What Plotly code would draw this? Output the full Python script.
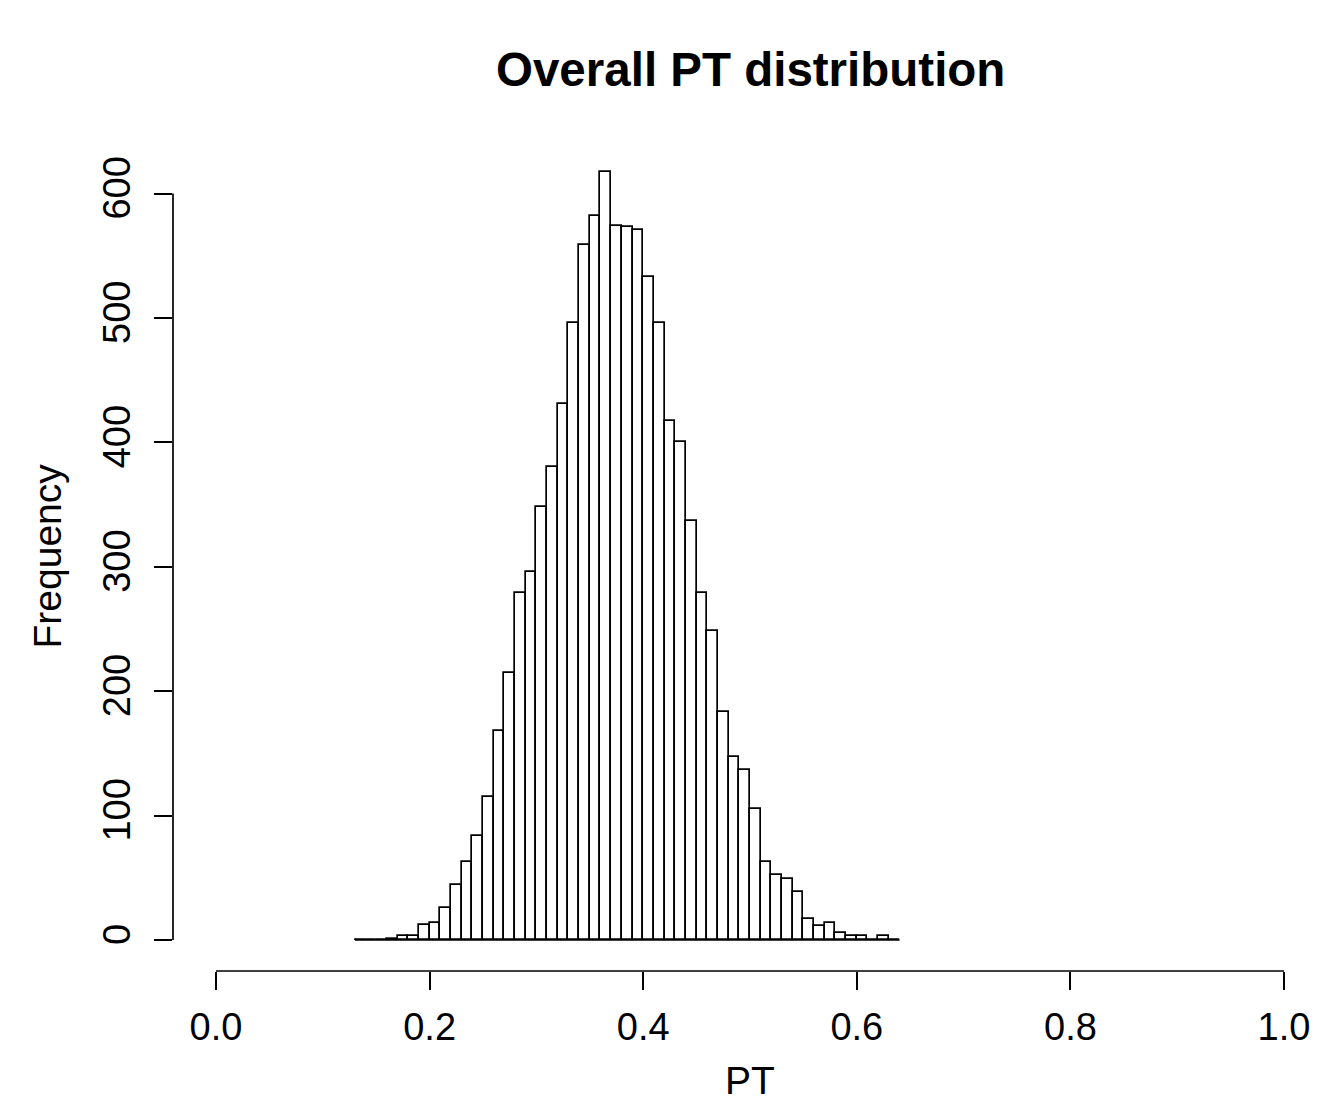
import plotly.graph_objects as go

# ---- data ----
bin_start = 0.13
bin_width = 0.01
counts = [0, 0, 0, 1, 3, 3, 12, 14, 26, 44,
          63, 84, 115, 168, 215, 279, 296, 348, 380, 431,
          496, 559, 582, 617, 574, 573, 571, 533, 496, 417,
          400, 337, 279, 248, 183, 147, 137, 105, 63, 52,
          49, 39, 17, 11, 14, 6, 3, 3, 0, 3,
          0]
x_ticks = [0.0, 0.2, 0.4, 0.6, 0.8, 1.0]
x_ticktext = ["0.0", "0.2", "0.4", "0.6", "0.8", "1.0"]
y_ticks = [0, 100, 200, 300, 400, 500, 600]
y_ticktext = ["0", "100", "200", "300", "400", "500", "600"]
title = "Overall PT distribution"
x_label = "PT"
y_label = "Frequency"

edges = [round(bin_start + i * bin_width, 4) for i in range(len(counts) + 1)]
centers = [(edges[i] + edges[i + 1]) / 2 for i in range(len(counts))]

FONT = "Liberation Sans, Arial, Helvetica, sans-serif"
LW = 1.7

fig = go.Figure()
fig.add_trace(go.Bar(
    x=centers, y=counts, width=[bin_width] * len(counts),
    marker=dict(color="white", line=dict(color="black", width=LW)),
    showlegend=False, hoverinfo="x+y",
))

# baseline under zero-count bins (R draws zero-height rectangles)
fig.add_shape(type="line", xref="x", yref="y", x0=edges[0], x1=edges[-1], y0=0, y1=0,
              line=dict(color="black", width=LW), layer="below")
# R-style axis lines spanning only the tick range
fig.add_shape(type="line", xref="x", yref="paper", x0=x_ticks[0], x1=x_ticks[-1], y0=0, y1=0,
              line=dict(color="black", width=LW))
fig.add_shape(type="line", xref="paper", yref="y", x0=0, x1=0, y0=y_ticks[0], y1=y_ticks[-1],
              line=dict(color="black", width=LW))

fig.update_layout(
    width=1318, height=1106,
    margin=dict(l=173, r=18, t=142, b=135, pad=0, autoexpand=False),
    paper_bgcolor="white", plot_bgcolor="white",
    font=dict(family=FONT, color="black", size=38),
    bargap=0,
    xaxis=dict(range=[-0.04026, 1.01498], tickvals=x_ticks, ticktext=x_ticktext,
               ticks="outside", ticklen=18, tickwidth=LW, tickcolor="black",
               showline=False, showgrid=False, zeroline=False, automargin=False,
               tickfont=dict(size=38, family=FONT), ticklabelstandoff=4),
    yaxis=dict(range=[-24.9, 641.4], tickvals=y_ticks, ticktext=y_ticktext,
               ticks="outside", ticklen=18, tickwidth=LW, tickcolor="black",
               showline=False, showgrid=False, zeroline=False, tickangle=-90,
               automargin=False,
               tickfont=dict(size=38, family=FONT), ticklabelstandoff=9),
    annotations=[
        dict(text="<b>" + title + "</b>", xref="x", yref="paper", x=0.5, y=1.087,
             xanchor="center", yanchor="middle", showarrow=False,
             font=dict(size=47.5, family=FONT)),
        dict(text=y_label, xref="paper", yref="paper", x=-0.1118, y=0.5,
             xanchor="center", yanchor="middle", textangle=-90, showarrow=False,
             font=dict(size=39, family=FONT)),
        dict(text=x_label, xref="x", yref="paper", x=0.5, y=-0.1315,
             xanchor="center", yanchor="middle", showarrow=False,
             font=dict(size=39, family=FONT)),
    ],
)

fig.write_html("out.html", config={"displayModeBar": False},
               post_script="document.body.style.margin='0';document.body.style.overflow='hidden';")
